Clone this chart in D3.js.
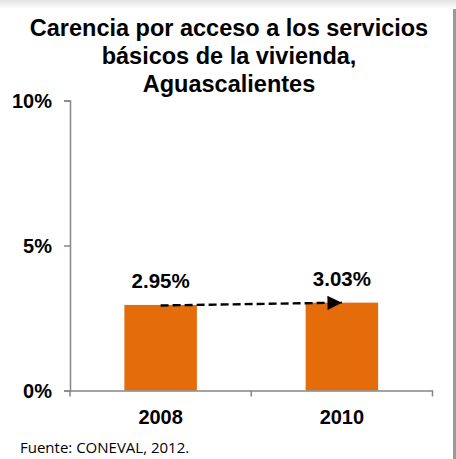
<!DOCTYPE html>
<html>
<head>
<meta charset="utf-8">
<script src="https://cdn.jsdelivr.net/npm/d3@7"></script>
<style>
  body { margin: 0; background: #fff; }
  svg { display: block; }
</style>
</head>
<body>
<div id="chart"></div>
<script>
'use strict';

var years = ['2008', '2010'];
var values = [2.95, 3.03];
var valueLabels = ['2.95%', '3.03%'];
var yTicks = [0, 5, 10];
var titleLines = ['Carencia por acceso a los servicios', 'básicos de la vivienda,', 'Aguascalientes'];

var width = 456, height = 459;
var margin = { left: 70, right: 23.5, top: 100.5, bottom: 68.5 };

var svg = d3.select('#chart')
  .append('svg')
  .attr('width', width)
  .attr('height', height);

// frame shadow
var defs = svg.append('defs');
var grad = defs.append('linearGradient')
  .attr('id', 'topShade')
  .attr('x1', 0).attr('y1', 0).attr('x2', 0).attr('y2', 1);
grad.append('stop').attr('offset', '0%').attr('stop-color', '#e4e4e4');
grad.append('stop').attr('offset', '100%').attr('stop-color', '#ffffff');

svg.append('rect')
  .attr('x', 0).attr('y', 0)
  .attr('width', width).attr('height', 9)
  .attr('fill', 'url(#topShade)');
svg.append('rect')
  .attr('x', 453).attr('y', 9)
  .attr('width', 3).attr('height', height - 9)
  .attr('fill', '#9a9a9a');

var x = d3.scaleBand()
  .domain(years)
  .range([margin.left, width - margin.right])
  .paddingInner(0.6)
  .paddingOuter(0.3);

var y = d3.scaleLinear()
  .domain([0, 10])
  .range([height - margin.bottom, margin.top]);

// title
svg.append('text')
  .attr('text-anchor', 'middle')
  .attr('font-family', 'Liberation Sans, Arial, sans-serif')
  .attr('font-weight', 'bold')
  .attr('font-size', 23.5)
  .attr('fill', '#000')
  .selectAll('tspan')
  .data(titleLines)
  .enter()
  .append('tspan')
  .attr('x', 229)
  .attr('y', function(d, i) { return 36 + i * 28; })
  .text(function(d) { return d; });

// bars
svg.selectAll('rect.bar')
  .data(values)
  .enter()
  .append('rect')
  .attr('class', 'bar')
  .attr('x', function(d, i) { return x(years[i]); })
  .attr('width', x.bandwidth())
  .attr('y', function(d) { return y(d); })
  .attr('height', function(d) { return y(0) - y(d); })
  .attr('fill', '#e46c0a');

// y axis
var yAxis = d3.axisLeft(y)
  .tickValues(yTicks)
  .tickSize(6)
  .tickFormat(function(d) { return d + '%'; });

var gy = svg.append('g')
  .attr('transform', 'translate(' + margin.left + ',0)')
  .call(yAxis);
gy.select('.domain').attr('stroke', '#868686').attr('stroke-width', 1.5);
gy.selectAll('.tick line').attr('stroke', '#868686').attr('stroke-width', 1.5);
gy.selectAll('.tick text')
  .attr('x', -18)
  .attr('dy', '0.35em')
  .attr('font-family', 'Liberation Sans, Arial, sans-serif')
  .attr('font-weight', 'bold')
  .attr('font-size', 20)
  .attr('fill', '#000');

// x axis
var xAxis = d3.axisBottom(x).tickSize(0).tickSizeOuter(0);
var gx = svg.append('g')
  .attr('transform', 'translate(0,' + y(0) + ')')
  .call(xAxis);
gx.select('.domain').attr('stroke', '#868686').attr('stroke-width', 1.5);
gx.selectAll('.tick text')
  .attr('dy', 0)
  .attr('y', 33)
  .attr('font-family', 'Liberation Sans, Arial, sans-serif')
  .attr('font-weight', 'bold')
  .attr('font-size', 20)
  .attr('fill', '#000');

// category boundary ticks
var bounds = [margin.left, margin.left + (width - margin.left - margin.right) / 2, width - margin.right];
gx.selectAll('line.bound')
  .data(bounds)
  .enter()
  .append('line')
  .attr('class', 'bound')
  .attr('x1', function(d) { return d; })
  .attr('x2', function(d) { return d; })
  .attr('y1', 0)
  .attr('y2', 6)
  .attr('stroke', '#868686')
  .attr('stroke-width', 1.5);

// value labels
svg.selectAll('text.val')
  .data(values)
  .enter()
  .append('text')
  .attr('class', 'val')
  .attr('text-anchor', 'middle')
  .attr('x', function(d, i) { return x(years[i]) + x.bandwidth() / 2; })
  .attr('y', function(d) { return y(d) - 17; })
  .attr('font-family', 'Liberation Sans, Arial, sans-serif')
  .attr('font-weight', 'bold')
  .attr('font-size', 20.5)
  .attr('fill', '#000')
  .text(function(d, i) { return valueLabels[i]; });

// dashed trend arrow
defs.append('marker')
  .attr('id', 'arrow')
  .attr('viewBox', '0 0 10 10')
  .attr('refX', 10)
  .attr('refY', 5)
  .attr('markerWidth', 6.5)
  .attr('markerHeight', 6)
  .attr('markerUnits', 'strokeWidth')
  .attr('orient', 'auto')
  .append('path')
  .attr('d', 'M0,0L10,5L0,10Z')
  .attr('fill', '#000');

svg.append('line')
  .attr('x1', x(years[0]) + x.bandwidth() / 2)
  .attr('y1', y(values[0]) + 0.5)
  .attr('x2', x(years[1]) + x.bandwidth() / 2)
  .attr('y2', y(values[1]))
  .attr('stroke', '#000')
  .attr('stroke-width', 2.4)
  .attr('stroke-dasharray', '8,4')
  .attr('marker-end', 'url(#arrow)');

// source
svg.append('text')
  .attr('x', 20)
  .attr('y', 453)
  .attr('font-family', 'Open Sans, Noto Sans, sans-serif')
  .attr('font-size', 15)
  .attr('fill', '#000')
  .text('Fuente: CONEVAL, 2012.');
</script>
</body>
</html>
